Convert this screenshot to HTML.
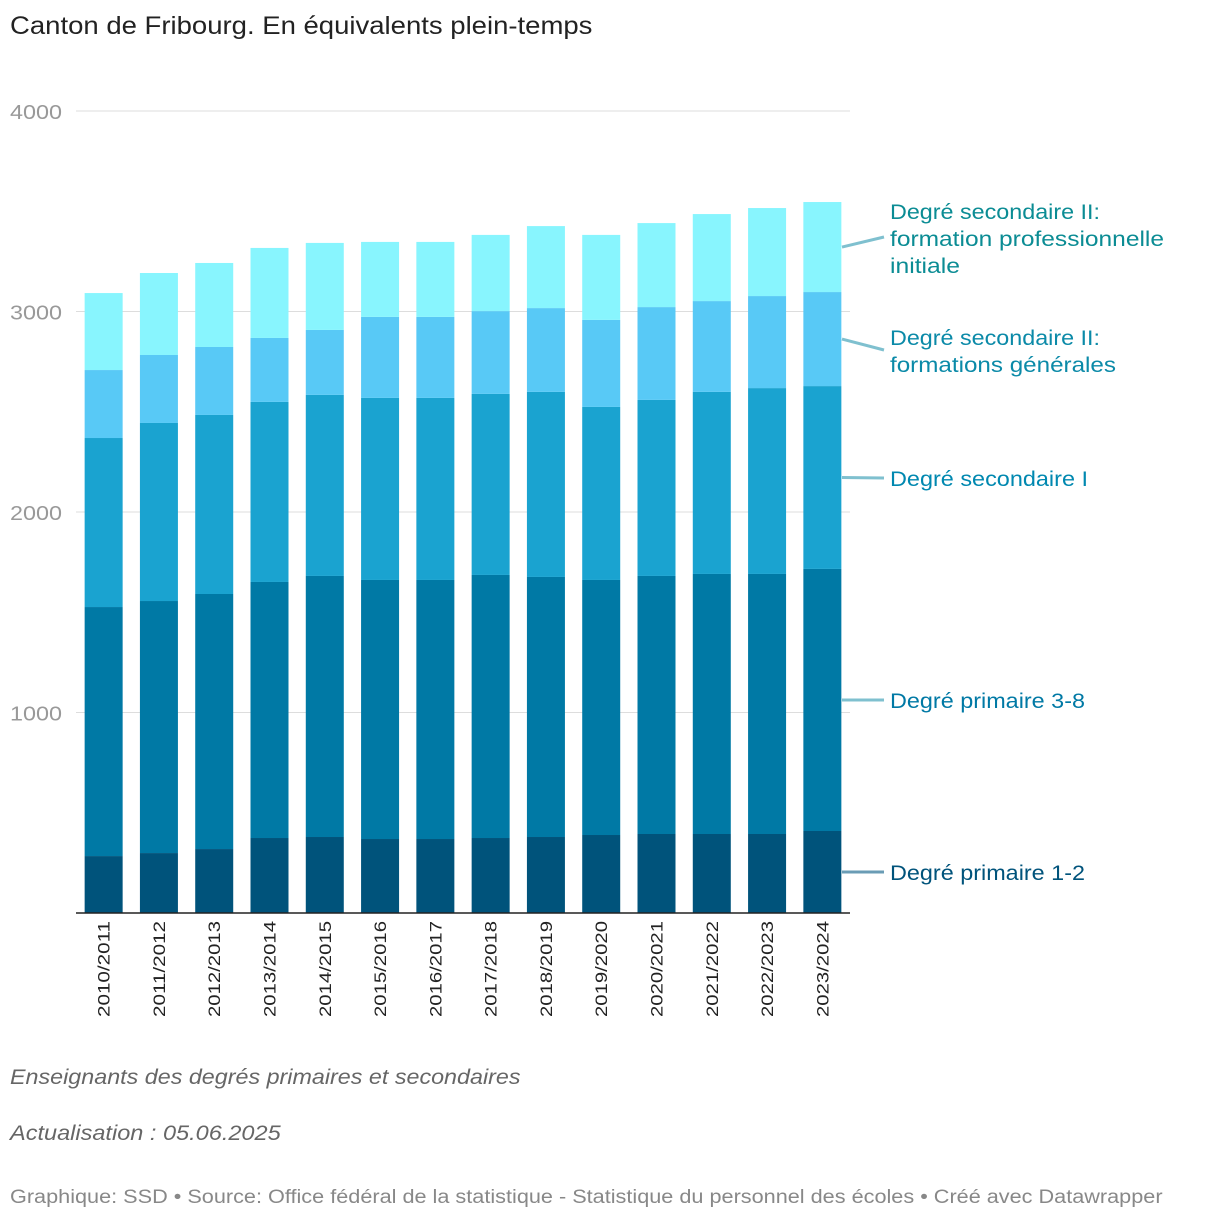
<!DOCTYPE html>
<html><head><meta charset="utf-8"><style>
body{margin:0;background:#fff;width:1220px;height:1224px;overflow:hidden;font-family:"Liberation Sans",sans-serif}
#wrap{position:relative;width:1220px;height:1224px}
.t{position:absolute;white-space:nowrap;transform-origin:0 0}
</style></head><body><div id="wrap">
<div class="t" style="left:10px;top:12px;font-size:25px;color:#222;transform:scaleX(1.1)">Canton de Fribourg. En équivalents plein-temps</div>
<svg id="chart" width="1220" height="1050" style="position:absolute;left:0;top:0"></svg>
<div class="t" style="left:10px;top:1066px;font-size:21px;font-style:italic;color:#666;transform:scaleX(1.11)">Enseignants des degrés primaires et secondaires</div>
<div class="t" style="left:10px;top:1122px;font-size:21px;font-style:italic;color:#666;transform:scaleX(1.12)">Actualisation : 05.06.2025</div>
<div class="t" style="left:10px;top:1187px;font-size:19px;color:#888;transform:scaleX(1.14)">Graphique: SSD • Source: Office fédéral de la statistique - Statistique du personnel des écoles  • Créé avec Datawrapper</div>
</div>
<script>
const categories=["2010/2011","2011/2012","2012/2013","2013/2014","2014/2015","2015/2016","2016/2017","2017/2018","2018/2019","2019/2020","2020/2021","2021/2022","2022/2023","2023/2024"];
const primaire12=[284,299,319,374,379,369,369,374,379,389,394,394,394,409];
const primaire38=[1242,1257,1272,1277,1302,1292,1292,1312,1297,1272,1287,1297,1297,1307];
const secondaire1=[843,888,893,898,903,908,908,903,923,863,878,908,927,912];
const secIIgen=[339,339,339,319,324,404,404,413,418,434,463,453,459,469];
const secIIpro=[384,409,419,449,434,374,374,380,409,424,419,434,439,449];
const yTicks=[1000,2000,3000,4000];
const series=[primaire12,primaire38,secondaire1,secIIgen,secIIpro];
const colors=["#00537b","#0079a5","#1aa3d0","#58c9f6","#88f5fe"];
const labelColors=["#00537b","#0079a5","#0088b0","#0b8aa8","#0b8c94"];
const NS="http://www.w3.org/2000/svg",svg=document.getElementById('chart');
const x0=76,x1=850,yBase=913,yTop=111,vMax=4000;
const y=v=>yBase-(v/vMax)*(yBase-yTop);
const band=(x1-x0)/categories.length,bw=38;
const xc=i=>x0+band*(i+0.5);
function mk(t,a){const e=document.createElementNS(NS,t);for(const k in a)e.setAttribute(k,a[k]);svg.appendChild(e);return e;}
yTicks.forEach(v=>{
 const l=mk('line',{x1:x0,x2:x1,y1:y(v),y2:y(v),stroke:'#ddd','stroke-width':1});
 
 
 const t=mk('text',{x:10,y:y(v)+8,'font-size':20,fill:'#999',textLength:52,lengthAdjust:'spacingAndGlyphs'});t.textContent=v;
 
 
});
categories.forEach((c,i)=>{
 let cum=0;
 series.forEach((s,k)=>{
  const r=mk('rect',{x:xc(i)-bw/2,y:y(cum+s[i]),width:bw,height:y(cum)-y(cum+s[i]),fill:colors[k]});
  
  
  cum+=s[i];
 });
 const t=mk('text',{transform:`translate(${xc(i)+6},${yBase+8}) rotate(-90)`,'font-size':17,fill:'#222','text-anchor':'end',textLength:96,lengthAdjust:'spacingAndGlyphs'});
 t.textContent=c;
 
 
});
const ax=mk('line',{x1:x0,x2:x1,y1:yBase,y2:yBase,stroke:'#222','stroke-width':1.5});


const last=categories.length-1;
const labelLines=[["Degré primaire 1-2"],["Degré primaire 3-8"],["Degré secondaire I"],["Degré secondaire II:","formations générales"],["Degré secondaire II:","formation professionnelle","initiale"]];
const labelLens=[[195],[195],[198],[210,226],[210,274,70]];
const labelY=[872,700,478,337,211];
let cum=0;
series.forEach((s,k)=>{
 const mid=y(cum+s[last]/2);cum+=s[last];
 const ly=labelLines[k].length===1?labelY[k]:labelY[k]+(k===4?26:13);
 const p=mk('polyline',{points:`842,${mid} 884,${ly}`,fill:'none',stroke:k==0?'#6a9cb5':'#7fc0cf','stroke-width':3});
 
 
 labelLines[k].forEach((ln,j)=>{
  const t=mk('text',{x:890,y:labelY[k]+8+j*27,'font-size':21,fill:labelColors[k],textLength:labelLens[k][j],lengthAdjust:'spacingAndGlyphs'});t.textContent=ln;
  
  
 });
});
</script></body></html>
